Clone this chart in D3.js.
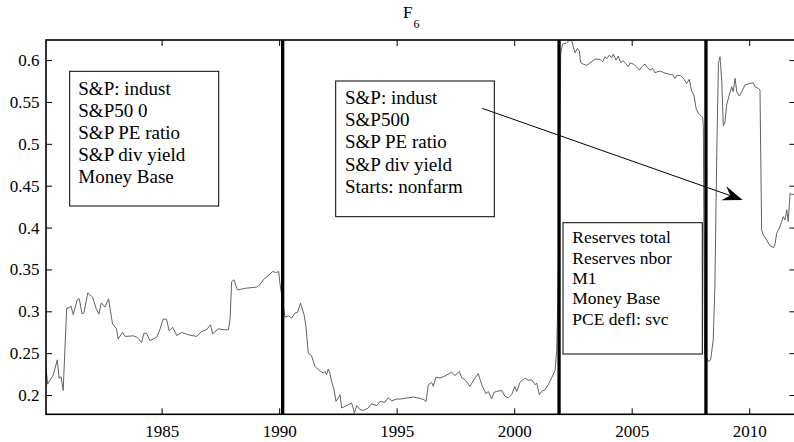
<!DOCTYPE html>
<meta charset="utf-8">
<style>
body { margin:0; background:#fff; }
svg text { font-family: "Liberation Serif", "Times New Roman", serif; fill:#000; }
</style>
<body>
<div id="chart"></div>
<script src="https://cdn.jsdelivr.net/npm/d3@7/dist/d3.min.js"></script>
<script>
// series (decimal year, value)
var dates = [
  1980.06,1980.15,1980.39,1980.56,1980.64,1980.72,1980.81,1980.96,1981.07,1981.14,1981.24,1981.41,1981.50,1981.61,1981.69,1981.86,1981.95,
  1982.06,1982.23,1982.33,1982.43,1982.59,1982.74,1982.91,1983.08,1983.15,1983.34,1983.44,1983.79,1983.96,1984.15,1984.25,1984.36,1984.50,
  1984.79,1984.93,1985.07,1985.21,1985.32,1985.47,1985.64,1985.85,1986.13,1986.49,1986.70,1986.91,1987.08,1987.17,1987.41,1987.69,1987.84,
  1987.91,1987.98,1988.08,1988.22,1988.62,1989.04,1989.18,1989.32,1989.47,1989.72,1989.86,1989.98,1990.03,
  1990.25,1990.39,1990.53,1990.67,1990.79,1990.91,1991.06,1991.14,1991.24,1991.38,1991.52,1991.67,1991.88,1991.95,1992.02,1992.09,1992.16,
  1992.23,1992.33,1992.42,1992.52,1992.59,1992.66,1992.80,1992.94,1993.08,1993.15,1993.20,1993.30,1993.44,1993.58,1993.79,1993.93,1994.15,
  1994.29,1994.50,1994.64,1994.79,1995.00,1995.14,1995.42,1995.71,1995.99,1996.16,1996.25,1996.35,1996.49,1996.56,1996.67,1996.84,1997.06,
  1997.27,1997.34,1997.48,1997.67,1997.77,1997.91,1998.12,1998.33,1998.47,1998.62,1998.80,1998.90,1999.04,1999.14,1999.25,1999.47,1999.61,
  1999.75,1999.89,2000.03,2000.11,2000.25,2000.46,2000.60,2000.74,2000.89,2000.96,2001.07,2001.17,2001.31,2001.45,2001.59,2001.74,2001.81,2001.86,
  2001.98,2002.06,2002.23,2002.37,2002.45,2002.51,2002.59,2002.69,2002.77,2002.83,2002.94,2003.09,2003.23,2003.44,2003.65,2003.77,2003.86,
  2003.94,2004.05,2004.15,2004.22,2004.33,2004.43,2004.53,2004.64,2004.74,2004.86,2004.93,2005.07,2005.21,2005.32,2005.43,2005.57,2005.66,
  2005.78,2005.89,2005.99,2006.09,2006.23,2006.37,2006.56,2006.74,2006.84,2006.91,2007.06,2007.13,2007.23,2007.34,2007.45,2007.55,2007.65,
  2007.74,2007.83,2007.94,2008.02,2008.05,2008.10,
  2008.26,2008.36,2008.47,2008.54,2008.62,2008.69,2008.76,2008.83,2008.90,2008.97,2009.04,2009.15,2009.26,2009.32,2009.40,2009.47,2009.58,
  2009.68,2009.82,2010.03,2010.17,2010.25,2010.39,2010.46,2010.49,2010.53,2010.60,2010.74,2010.89,2011.03,2011.10,2011.17,2011.28,2011.38,
  2011.45,2011.52,2011.60,2011.66,2011.74,2011.81,2011.92
];
var values = [
  0.2385,0.213,0.224,0.242,0.220,0.222,0.2055,0.304,0.304,0.3065,0.296,0.314,0.3147,0.297,0.298,0.322,0.3197,
  0.317,0.302,0.2966,0.310,0.305,0.315,0.285,0.279,0.267,0.275,0.270,0.2707,0.269,0.2628,0.274,0.2735,0.265,
  0.269,0.2787,0.291,0.2903,0.2767,0.281,0.271,0.2747,0.272,0.270,0.276,0.278,0.2839,0.273,0.279,0.2779,0.2779,
  0.290,0.3355,0.3376,0.3256,0.3277,0.3289,0.3316,0.3376,0.341,0.3475,0.3463,0.3475,0.334,
  0.293,0.2946,0.2919,0.2978,0.299,0.3098,0.296,0.2819,0.250,0.2469,0.2342,0.2302,0.2262,0.2282,0.2242,0.2310,0.2262,
  0.2163,0.2072,0.1924,0.1966,0.2004,0.1845,0.1865,0.1885,0.1905,0.1845,0.1786,0.1873,0.1825,0.1817,0.1845,0.1896,0.1873,
  0.1924,0.1912,0.1966,0.1932,0.1952,0.1952,0.1964,0.1976,0.196,0.1944,0.1924,0.2123,0.2151,0.2103,0.2215,0.2203,0.2229,
  0.2262,0.2275,0.2231,0.2282,0.2203,0.2183,0.2103,0.2203,0.2255,0.2123,0.2016,0.2043,0.1952,0.2031,0.2043,0.2055,0.1984,
  0.1966,0.2004,0.2103,0.2043,0.2153,0.2203,0.2175,0.2183,0.2123,0.2143,0.2004,0.2043,0.2064,0.2123,0.2203,0.2294,0.254,0.314,
  0.608,0.619,0.6207,0.624,0.623,0.6167,0.6087,0.614,0.6111,0.5968,0.5952,0.5937,0.5968,0.6012,0.6008,0.598,0.604,
  0.6016,0.606,0.6028,0.6072,0.600,0.6048,0.5968,0.5992,0.596,0.592,0.5968,0.5952,0.592,0.588,0.592,0.5952,0.5912,
  0.588,0.590,0.5849,0.586,0.5869,0.5849,0.5833,0.5825,0.5782,0.5813,0.5817,0.5802,0.577,0.5722,0.577,0.5634,0.5582,
  0.5424,0.5364,0.534,0.5316,0.52,0.25,
  0.2401,0.2420,0.266,0.3296,0.4887,0.596,0.604,0.5761,0.5213,0.5264,0.5463,0.5582,0.5682,0.5622,0.5782,0.5622,0.557,
  0.5622,0.5702,0.5722,0.573,0.5682,0.5662,0.5642,0.4887,0.3972,0.3912,0.3853,0.3781,0.3761,0.3805,0.3933,0.3992,0.4071,
  0.4131,0.4091,0.4211,0.4071,0.441,0.439,0.440
];
var breaks = [1990.15, 2001.91, 2008.16];
var xTicks = [1985, 1990, 1995, 2000, 2005, 2010];
var yTicks = [0.2, 0.25, 0.3, 0.35, 0.4, 0.45, 0.5, 0.55, 0.6];
var box1Lines = ["S&P: indust", "S&P50 0", "S&P PE ratio", "S&P div yield", "Money Base"];
var box2Lines = ["S&P: indust", "S&P500", "S&P PE ratio", "S&P div yield", "Starts: nonfarm"];
var box3Lines = ["Reserves total", "Reserves nbor", "M1", "Money Base", "PCE defl: svc"];
var arrowFrom = [1998.64, 0.5424], arrowTo = [2009.72, 0.433];

var W = 794, H = 442;
var mLeft = 46, mRight = 795.5, mTop = 40, mBottom = 414.3;
var serif = "'Liberation Serif', 'Times New Roman', serif";

var svg = d3.select("#chart").append("svg").attr("width", W).attr("height", H);

var x = d3.scaleLinear().domain([1980.08, 2011.97]).range([mLeft, mRight]);
var y = d3.scaleLinear().domain([0.177, 0.624]).range([mBottom, mTop]);

svg.append("clipPath").attr("id", "plotclip").append("rect")
  .attr("x", mLeft).attr("y", mTop).attr("width", mRight - mLeft).attr("height", mBottom - mTop);

// data line
var line = d3.line().x(function(d, i) { return x(dates[i]); }).y(function(d) { return y(d); });
svg.append("path")
  .datum(values)
  .attr("clip-path", "url(#plotclip)")
  .attr("d", line)
  .attr("fill", "none")
  .attr("stroke", "#626262")
  .attr("stroke-width", 1);

// break lines
svg.append("g").selectAll("line")
  .data(breaks).enter().append("line")
  .attr("x1", function(d) { return x(d); }).attr("x2", function(d) { return x(d); })
  .attr("y1", mTop).attr("y2", mBottom)
  .attr("stroke", "#000").attr("stroke-width", 3.3);

// axes (ticks inward, matlab style)
function styleAxis(g) {
  g.select(".domain").remove();
  g.attr("font-family", null).attr("font-size", null);
  g.selectAll(".tick line").attr("stroke", "#000").attr("stroke-width", 1);
  g.selectAll("text").style("font-family", serif).style("font-size", "17px").attr("fill", "#000");
}
var fmt = function(d) { return String(+d.toFixed(2)); };

svg.append("g").attr("transform", "translate(0," + mBottom + ")")
  .call(d3.axisBottom(x).tickValues(xTicks).tickFormat(d3.format("d")).tickSizeInner(-6).tickSizeOuter(0).tickPadding(10.3))
  .call(styleAxis);
svg.append("g").attr("transform", "translate(0," + mTop + ")")
  .call(d3.axisTop(x).tickValues(xTicks).tickFormat("").tickSizeInner(-6).tickSizeOuter(0))
  .call(styleAxis);
svg.append("g").attr("transform", "translate(" + mLeft + ",0)")
  .call(d3.axisLeft(y).tickValues(yTicks).tickFormat(fmt).tickSizeInner(-6).tickSizeOuter(0).tickPadding(6.5))
  .call(styleAxis);
svg.append("g").attr("transform", "translate(" + mRight + ",0)")
  .call(d3.axisRight(y).tickValues(yTicks).tickFormat("").tickSizeInner(-6).tickSizeOuter(0))
  .call(styleAxis);

// frame
svg.append("rect")
  .attr("x", mLeft).attr("y", mTop).attr("width", mRight - mLeft).attr("height", mBottom - mTop)
  .attr("fill", "none").attr("stroke", "#000").attr("stroke-width", 1.6);

// title
var title = svg.append("text").attr("x", 403).attr("y", 18.3).style("font-family", serif).style("font-size", "17px");
title.append("tspan").text("F");
title.append("tspan").style("font-size", "12px").attr("dy", 9.5).attr("dx", 1).text("6");

// text boxes
function textBox(x0, y0, w, h, lines, tx, ty, fs, lh) {
  var g = svg.append("g");
  g.append("rect").attr("x", x0).attr("y", y0).attr("width", w).attr("height", h)
    .attr("fill", "#fff").attr("stroke", "#000").attr("stroke-width", 1);
  g.selectAll("text").data(lines).enter().append("text")
    .attr("x", tx).attr("y", function(d, i) { return ty + i * lh; })
    .style("font-family", serif)
    .style("font-size", fs + "px")
    .text(function(d) { return d; });
}
textBox(69.7, 71.3, 149, 134.7, box1Lines, 78.3, 94.5, 19, 22.2);
textBox(335.7, 81, 158.6, 135.7, box2Lines, 345, 104, 19, 22.2);
textBox(563, 222.7, 139.3, 131.3, box3Lines, 572.3, 243.3, 17.5, 20.3);

// arrow
var ax0 = x(arrowFrom[0]), ay0 = y(arrowFrom[1]), ax1 = x(arrowTo[0]), ay1 = y(arrowTo[1]);
var ang = Math.atan2(ay1 - ay0, ax1 - ax0);
var L = 20, hw = 7.5, notch = 13;
function pt(along, side) {
  return [ax1 - along * Math.cos(ang) - side * Math.sin(ang), ay1 - along * Math.sin(ang) + side * Math.cos(ang)];
}
svg.append("line")
  .attr("x1", ax0).attr("y1", ay0)
  .attr("x2", pt(notch, 0)[0]).attr("y2", pt(notch, 0)[1])
  .attr("stroke", "#000").attr("stroke-width", 1);
svg.append("path")
  .attr("d", "M" + [ax1, ay1] + "L" + pt(L, hw) + "L" + pt(notch, 0) + "L" + pt(L, -hw) + "Z")
  .attr("fill", "#000");
</script>
</body>
